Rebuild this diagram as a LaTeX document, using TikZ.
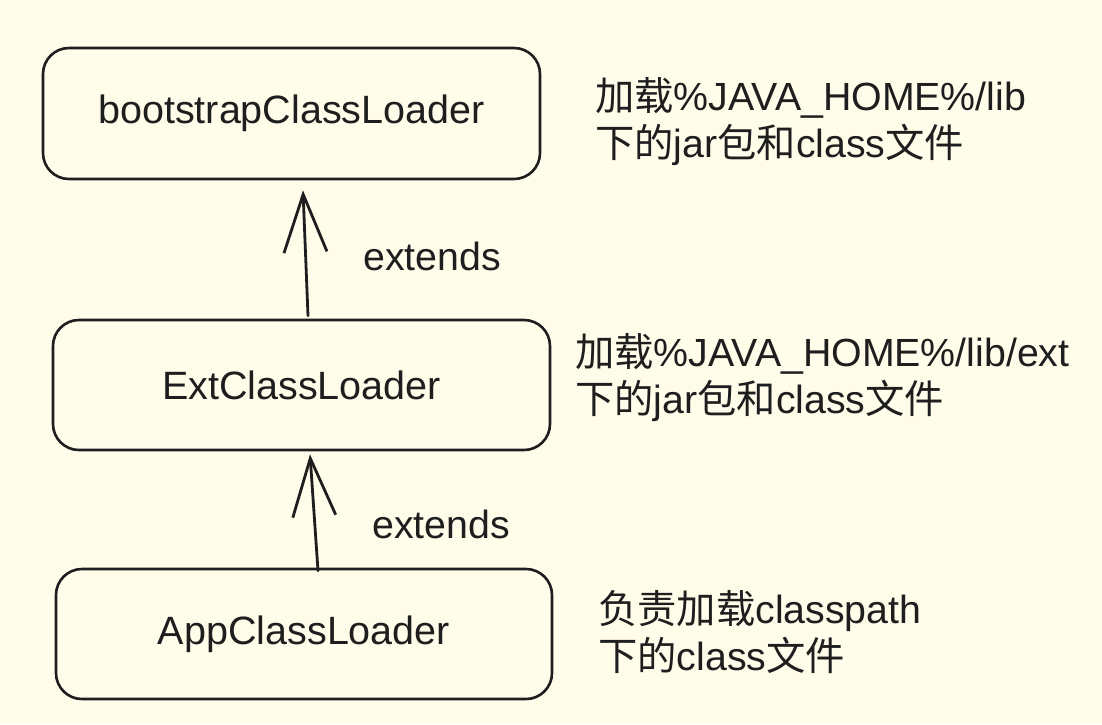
\documentclass[tikz,border=0pt]{standalone}
\usepackage{fontspec}
\setmainfont{Liberation Sans}
\newfontfamily\cjk{Noto Sans CJK SC}
\usetikzlibrary{arrows.meta,calc}
\definecolor{bgcream}{HTML}{FFFCEA}
\definecolor{ink}{HTML}{1E1E1E}
\begin{document}
\begin{tikzpicture}[x=1pt,y=-1pt,
  box/.style={draw=ink, line width=2.6pt, rounded corners=26pt, fill=none,
    text=ink, font=\fontsize{39.5}{46}\selectfont, inner sep=0pt},
  sidetext/.style={text=ink, font=\fontsize{39.3}{46.5}\selectfont, align=left,
    inner sep=0pt, anchor=base west},
  lbl/.style={text=ink, font=\fontsize{39.3}{46}\selectfont, inner sep=0pt, anchor=base west},
  ext/.style={draw=ink, line width=2.8pt, line cap=round,
    -{Straight Barb[length=58pt,width=43pt,line width=2.8pt]}}]
\fill[bgcream] (0,0) rectangle (1102,724);
\useasboundingbox (0,0) rectangle (1102,724);

\node[box, minimum width=497pt, minimum height=131pt] (boot) at (291.5,113.5) {bootstrapClassLoader};
\node[box, minimum width=497pt, minimum height=130pt] (extb) at (301.5,385) {ExtClassLoader};
\node[box, minimum width=496pt, minimum height=130pt] (app) at (304,634) {AppClassLoader};

\draw[ext] ($(extb.north)+(6.5,-3)$) -- ($(boot.south)+(11.5,10)$);
\draw[ext] ($(app.north)+(14,3)$) -- ($(extb.south)+(8.5,3)$);

\node[lbl] (e1) at (363,270) {extends};
\node[lbl] (e2) at (372,538) {extends};

\node[sidetext] (s1) at (595,157) {{\cjk 加载}\%JAVA\_HOME\%/lib\\{\cjk 下的}jar{\cjk 包和}class{\cjk 文件}};
\node[sidetext] (s2) at (575,413) {{\cjk 加载}\%JAVA\_HOME\%/lib/ext\\{\cjk 下的}jar{\cjk 包和}class{\cjk 文件}};
\node[sidetext] (s3) at (598,670) {{\cjk 负责加载}classpath\\{\cjk 下的}class{\cjk 文件}};
\end{tikzpicture}
\end{document}
